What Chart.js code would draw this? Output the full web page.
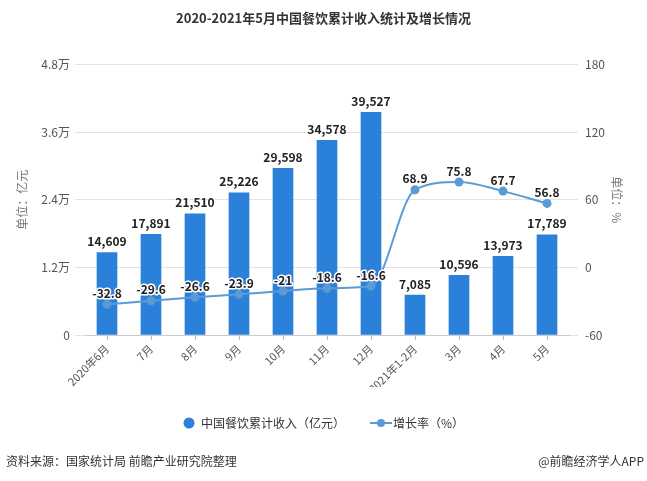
<!DOCTYPE html>
<html><head><meta charset="utf-8">
<script src="https://cdn.jsdelivr.net/npm/chart.js@4/dist/chart.umd.min.js"></script>
<style>
html,body{margin:0;padding:0;background:#fff;}
#wrap{position:relative;width:647px;height:481px;}
canvas{position:absolute;left:0;top:0;}
.foot{position:absolute;top:452px;font:12px "Noto Sans CJK SC",sans-serif;color:#333;white-space:nowrap;}
</style></head>
<body>
<div id="wrap">
<canvas id="c" width="647" height="481"></canvas>
<div class="foot" style="left:6px;">资料来源：国家统计局 前瞻产业研究院整理</div>
<div class="foot" style="right:3px;">@前瞻经济学人APP</div>
</div>
<script>
const categories = ['2020年6月','7月','8月','9月','10月','11月','12月','2021年1-2月','3月','4月','5月'];
const revenue = [14609,17891,21510,25226,29598,34578,39527,7085,10596,13973,17789];
const growth = [-32.8,-29.6,-26.6,-23.9,-21,-18.6,-16.6,68.9,75.8,67.7,56.8];
const leftTicks = [0,12000,24000,36000,48000];
const rightTicks = [-60,0,60,120,180];

const FONT = '"Noto Sans CJK SC","Noto Sans",sans-serif';
const BAR = '#2b80d9';
const LINE = '#5b9bd5';

function fmt(v){return v.toLocaleString('en-US');}

const lineMark = document.createElement('canvas');
lineMark.width = 22; lineMark.height = 10;
(function(){const g=lineMark.getContext('2d');g.strokeStyle=LINE;g.lineWidth=2;g.beginPath();g.moveTo(0,5);g.lineTo(22,5);g.stroke();g.fillStyle=LINE;g.beginPath();g.arc(11,5,4,0,Math.PI*2);g.fill();})();
const circMark = document.createElement('canvas');
circMark.width = 12; circMark.height = 12;
(function(){const g=circMark.getContext('2d');g.fillStyle=BAR;g.beginPath();g.arc(6,6,5.5,0,Math.PI*2);g.fill();})();

const labelPlugin = {
  id:'labels',
  afterDatasetsDraw(chart){
    const ctx = chart.ctx;
    ctx.save();
    ctx.font = 'bold 12px '+FONT;
    ctx.textAlign = 'center';
    ctx.textBaseline = 'middle';
    const bm = chart.getDatasetMeta(0);
    bm.data.forEach((el,i)=>{
      ctx.fillStyle = '#222';
      ctx.fillText(fmt(revenue[i]), el.x, el.y-11);
    });
    const lm = chart.getDatasetMeta(1);
    lm.data.forEach((el,i)=>{
      const t = String(growth[i]);
      ctx.lineWidth = 3; ctx.strokeStyle = '#fff'; ctx.lineJoin='round';
      ctx.strokeText(t, el.x, el.y-11);
      ctx.fillStyle = '#222';
      ctx.fillText(t, el.x, el.y-11);
    });
    ctx.restore();
  }
};

new Chart(document.getElementById('c'), {
  data:{
    labels: categories,
    datasets:[
      {type:'bar', label:'中国餐饮累计收入（亿元）', data: revenue, backgroundColor: BAR, barThickness:20, yAxisID:'y', order:1},
      {type:'line', label:'增长率（%）', data: growth, borderColor: LINE, backgroundColor: LINE, borderWidth:2, pointRadius:4.5, pointHoverRadius:4.5, pointBackgroundColor: LINE, pointBorderWidth:0, cubicInterpolationMode:'monotone', yAxisID:'y1', order:0}
    ]
  },
  options:{
    responsive:false,
    animation:false,
    layout:{padding:{left:0,right:0,top:0,bottom:42}},
    plugins:{
      title:{display:true, text:'2020-2021年5月中国餐饮累计收入统计及增长情况', color:'#333', font:{family:FONT,size:13,weight:'bold'}, padding:{top:10,bottom:39}},
      legend:{position:'bottom', labels:{usePointStyle:true, color:'#333', font:{family:FONT,size:12}, padding:30,
        generateLabels(chart){
          return [
            {text:'中国餐饮累计收入（亿元）', pointStyle:circMark, datasetIndex:0, fontColor:'#333', lineWidth:0, strokeStyle:'transparent'},
            {text:'增长率（%）', pointStyle:lineMark, datasetIndex:1, fontColor:'#333', lineWidth:0, strokeStyle:'transparent'}
          ];
        }}},
      tooltip:{enabled:false}
    },
    scales:{
      x:{
        offset:true,
        grid:{display:true, drawOnChartArea:false, offset:false, tickLength:5, color:'#bbb'},
        border:{color:'#ccc'},
        ticks:{color:'#555', font:{family:FONT,size:11}, maxRotation:45, minRotation:45, padding:2},
        afterFit(s){s.height = 52;}
      },
      y:{
        position:'left', min:0, max:48000,
        afterBuildTicks(s){s.ticks = leftTicks.map(v=>({value:v}));},
        ticks:{color:'#555', font:{family:FONT,size:12}, padding:5, callback:v=> v===0?'0':(v/10000)+'万'},
        grid:{color:'#e3e3e3', tickLength:10},
        border:{display:false},
        title:{display:true, text:'单位：亿元', color:'#777', font:{family:FONT,size:12}, padding:{top:15,bottom:0}},
        afterFit(s){s.width = 85;}
      },
      y1:{
        position:'right', min:-60, max:180,
        afterBuildTicks(s){s.ticks = rightTicks.map(v=>({value:v}));},
        ticks:{color:'#555', font:{family:FONT,size:12}, padding:7},
        grid:{drawOnChartArea:false, color:'#e3e3e3', tickLength:9},
        border:{display:false},
        title:{display:true, text:'单位：%', color:'#777', font:{family:FONT,size:12}, padding:{top:23,bottom:0}},
        afterFit(s){s.width = 78;}
      }
    }
  },
  plugins:[labelPlugin]
});
</script>
</body></html>
